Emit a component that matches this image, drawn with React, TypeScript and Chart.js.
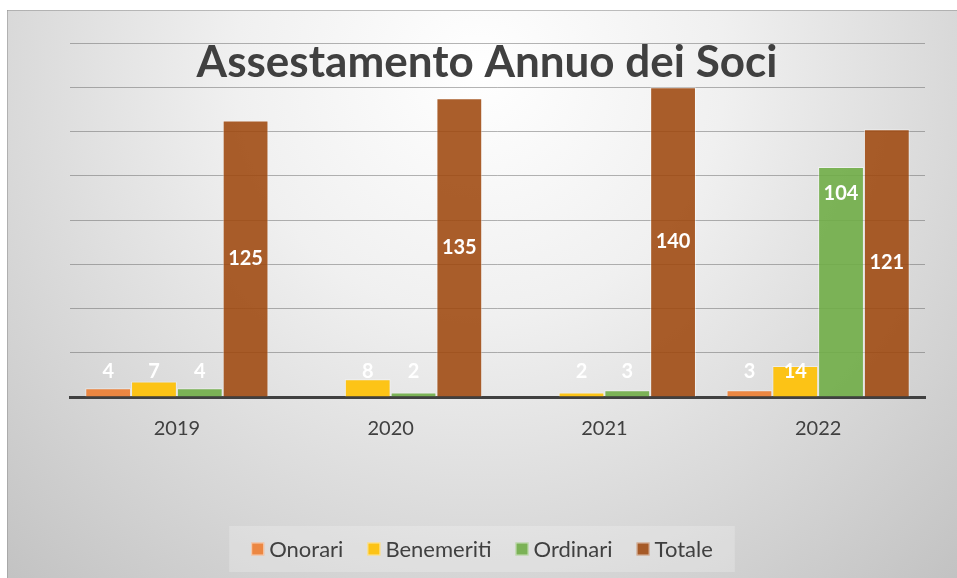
import React, { useEffect, useRef } from "react";
import { Chart, registerables } from "chart.js";

Chart.register(...registerables);

const categories = ["2019", "2020", "2021", "2022"];
const onorari: (number | null)[] = [4, null, null, 3];
const benemeriti: (number | null)[] = [7, 8, 2, 14];
const ordinari: (number | null)[] = [4, 2, 3, 104];
const totale: (number | null)[] = [125, 135, 140, 121];
const seriesNames = ["Onorari", "Benemeriti", "Ordinari", "Totale"];
const seriesColors = [
  "rgba(237,125,49,0.9)",
  "rgba(255,192,0,0.9)",
  "rgba(112,173,71,0.9)",
  "rgba(158,72,14,0.88)",
];
const chartTitle = "Assestamento Annuo dei Soci";
const yMin = 0;
const yMax = 160;
const yStep = 20;

const FONT = "Lato, 'Open Sans', sans-serif";
const TEXT = "#404040";

const backgroundPlugin = {
  id: "bgFrame",
  beforeDraw(chart: any) {
    const { ctx, width, height } = chart;
    ctx.save();
    ctx.fillStyle = "#ffffff";
    ctx.fillRect(0, 0, width, height);
    const g = ctx.createRadialGradient(480, 70, 0, 480, 70, 700);
    g.addColorStop(0, "#ffffff");
    g.addColorStop(0.35, "#f0f0f0");
    g.addColorStop(1, "#c2c2c2");
    ctx.fillStyle = g;
    ctx.fillRect(7, 10, width - 7, height - 10);
    ctx.strokeStyle = "rgba(150,150,150,0.6)";
    ctx.lineWidth = 1;
    ctx.beginPath();
    ctx.moveTo(7, 10.5);
    ctx.lineTo(width, 10.5);
    ctx.moveTo(7.5, 10);
    ctx.lineTo(7.5, height);
    ctx.stroke();
    ctx.restore();
  },
};

const labelsPlugin = {
  id: "valueLabels",
  afterDatasetsDraw(chart: any) {
    const { ctx } = chart;
    ctx.save();
    ctx.font = `bold 20px ${FONT}`;
    ctx.fillStyle = "#ffffff";
    ctx.textAlign = "center";
    ctx.textBaseline = "middle";
    chart.data.datasets.forEach((ds: any, di: number) => {
      const meta = chart.getDatasetMeta(di);
      meta.data.forEach((el: any, i: number) => {
        const v = ds.data[i];
        if (v === null || v === undefined) return;
        const top = el.y;
        const base = el.base;
        let y: number;
        if (di === 3) y = (top + base) / 2;
        else y = Math.min(top + 27, base - 25);
        ctx.fillText(String(v), el.x, y);
      });
    });
    ctx.restore();
  },
  afterDraw(chart: any) {
    const { ctx } = chart;
    ctx.save();
    // title
    ctx.font = `bold 44px ${FONT}`;
    ctx.fillStyle = TEXT;
    ctx.textAlign = "center";
    ctx.textBaseline = "alphabetic";
    ctx.fillText(chartTitle, 487, 77);

    // legend
    ctx.font = `22px ${FONT}`;
    const box = 13;
    const gapText = 5;
    const gapItem = 24;
    const widths = seriesNames.map((n) => ctx.measureText(n).width);
    const total =
      widths.reduce((a, b) => a + b, 0) +
      seriesNames.length * (box + gapText) +
      (seriesNames.length - 1) * gapItem;
    const cx = 482;
    const padX = 22;
    const bx = cx - total / 2 - padX;
    ctx.fillStyle = "rgba(255,255,255,0.22)";
    ctx.fillRect(bx, 526, total + padX * 2, 46);
    let x = cx - total / 2;
    const midY = 549;
    ctx.textAlign = "left";
    ctx.textBaseline = "middle";
    seriesNames.forEach((n, i) => {
      ctx.fillStyle = seriesColors[i];
      ctx.fillRect(x, midY - box / 2, box, box);
      ctx.strokeStyle = "rgba(255,255,255,0.6)";
      ctx.lineWidth = 1;
      ctx.strokeRect(x + 0.5, midY - box / 2 + 0.5, box - 1, box - 1);
      x += box + gapText;
      ctx.fillStyle = TEXT;
      ctx.fillText(n, x, midY + 1);
      x += widths[i] + gapItem;
    });
    ctx.restore();
  },
};

export default function App() {
  const ref = useRef<HTMLCanvasElement | null>(null);
  useEffect(() => {
    document.body.style.margin = "0";
    const canvas = ref.current;
    if (!canvas) return;
    const seriesData = [onorari, benemeriti, ordinari, totale];
    const chart = new Chart(canvas, {
      type: "bar",
      data: {
        labels: categories,
        datasets: seriesNames.map((name, i) => ({
          label: name,
          data: seriesData[i],
          backgroundColor: seriesColors[i],
          borderColor: "rgba(255,255,255,0.45)",
          borderWidth: 1,
          categoryPercentage: 0.857,
          barPercentage: 1,
        })),
      },
      options: {
        responsive: false,
        animation: false,
        devicePixelRatio: 1,
        layout: { padding: { left: 70, right: 32, top: 43, bottom: 0 } },
        plugins: {
          legend: { display: false },
          title: { display: false },
          tooltip: { enabled: false },
        },
        scales: {
          x: {
            afterFit: (s: any) => {
              s.height = 181;
            },
            grid: { display: false, drawTicks: false },
            border: { display: true, color: "#404040", width: 3 },
            ticks: {
              color: TEXT,
              font: { family: FONT, size: 20 },
              padding: 20,
            },
          },
          y: {
            min: yMin,
            max: yMax,
            afterFit: (s: any) => {
              s.width = 0;
            },
            ticks: { display: false, stepSize: yStep },
            border: { display: false },
            grid: {
              color: "rgba(90,90,90,0.45)",
              lineWidth: 1,
              drawTicks: false,
            },
          },
        },
      },
      plugins: [backgroundPlugin, labelsPlugin],
    });
    return () => chart.destroy();
  }, []);
  return (
    <div style={{ position: "relative", width: 957, height: 578 }}>
      <canvas
        ref={ref}
        width={957}
        height={578}
        style={{ display: "block", width: 957, height: 578 }}
      />
    </div>
  );
}
